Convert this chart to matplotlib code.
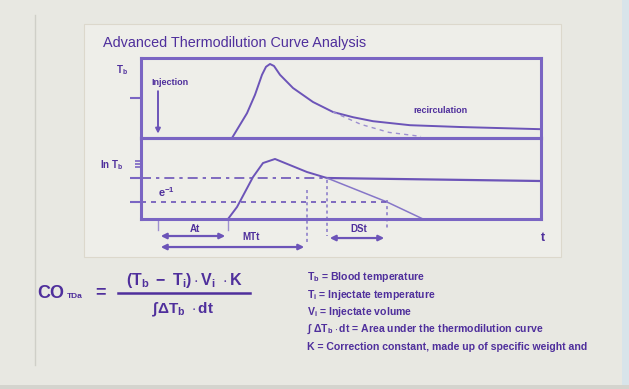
import matplotlib
matplotlib.use('Agg')
import matplotlib.pyplot as plt
from matplotlib.patches import Rectangle

# ---------------- data ----------------
title = "Advanced Thermodilution Curve Analysis"
# top panel: thermodilution curve (time units, relative temperature change)
t_top = [22.75, 26.5, 28.5, 30.25, 31.25, 32.25, 33.25, 34.75, 38, 43, 48, 53, 58, 67.25, 79.75, 100]
tb_top = [0.0, 0.31, 0.54, 0.79, 0.89, 0.925, 0.90, 0.79, 0.625, 0.45, 0.325, 0.26, 0.21, 0.16, 0.1375, 0.11]
t_top_extrap = [48, 55, 62, 70]
tb_top_extrap = [0.325, 0.17, 0.07, 0.02]
# bottom panel: logarithmic curve
t_ln = [21.75, 24, 28, 30.5, 33.5, 41.5, 46.5]
ln_tb = [0.0, 0.148, 0.518, 0.691, 0.741, 0.580, 0.506]
t_ln_recirc = [46.5, 100]
ln_recirc = [0.506, 0.469]
t_ln_fit = [46.5, 61.5, 70.5]
ln_fit = [0.506, 0.21, 0.0]
level_ref = 0.506
level_e1 = 0.21
t_injection = 4.25
t_appear = 21.75
t_mtt = 41.5
t_dst_start = 46.5
t_dst_end = 61.5

legend_lines = [
    r"$\mathbf{T_b}$ = Blood temperature",
    r"$\mathbf{T_i}$ = Injectate temperature",
    r"$\mathbf{V_i}$ = Injectate volume",
    r"$\mathbf{\int\ \Delta T_b \cdot dt}$ = Area under the thermodilution curve",
    r"K = Correction constant, made up of specific weight and",
]

# ---------------- style ----------------
FONT = 'Liberation Sans'
plt.rcParams['font.family'] = [FONT, 'DejaVu Sans']
plt.rcParams['mathtext.fontset'] = 'custom'
plt.rcParams['mathtext.rm'] = FONT
plt.rcParams['mathtext.it'] = FONT + ':italic'
plt.rcParams['mathtext.bf'] = FONT + ':bold'
plt.rcParams['mathtext.sf'] = FONT

LINE = '#6c54b8'
FRAME = '#7a65c3'
TEXT = '#4f2f9c'
BG = '#e8e8e2'
PANEL = '#eeeee9'

W, H = 629, 389
fig = plt.figure(figsize=(W / 100, H / 100), dpi=100, facecolor=BG)

# background layer in pixel coordinates
bg = fig.add_axes([0, 0, 1, 1], zorder=0)
bg.set_xlim(0, W)
bg.set_ylim(H, 0)
bg.axis('off')
bg.add_patch(Rectangle((84, 24), 477, 233, facecolor=PANEL, edgecolor='#dcd8cc', lw=0.8))
bg.plot([35, 35], [15, 365], color='#cfcfc8', lw=1.0)
bg.add_patch(Rectangle((622, 0), 7, H, facecolor='#d8e4ea', edgecolor='none'))
bg.add_patch(Rectangle((0, 385), W, 4, facecolor='#d4d4ce', edgecolor='none'))

# chart axes
def px_axes(x0, y0, x1, y1, z):
    return fig.add_axes([x0 / W, 1 - y1 / H, (x1 - x0) / W, (y1 - y0) / H], zorder=z)

ax1 = px_axes(141, 58, 541, 138, 2)
ax2 = px_axes(141, 138, 541, 219, 2)
for ax in (ax1, ax2):
    ax.set_facecolor('none')
    ax.set_xlim(0, 100)
    ax.set_ylim(0, 1)
    for s in ax.spines.values():
        s.set_color(FRAME)
        s.set_linewidth(2.2)
    ax.set_xticks([])
    ax.tick_params(axis='y', direction='out', length=8, width=1.5, color=FRAME, labelleft=False)

ax1.set_yticks([0.5])
ax2.set_yticks([level_ref, level_e1])
ax2.set_yticks([0.64, 0.68, 0.72], minor=True)
ax2.tick_params(axis='y', which='minor', direction='out', length=4, width=1.2, color=FRAME, labelleft=False)

# top panel curves
ax1.plot(t_top, tb_top, color=LINE, lw=1.4, solid_joinstyle='round')
ax1.plot(t_top_extrap, tb_top_extrap, color='#9d8fd0', lw=1.0, ls=(0, (3, 3)))
ax1.annotate('', xy=(t_injection, 0.02), xytext=(t_injection, 0.62),
             arrowprops=dict(arrowstyle='-|>', color=LINE, lw=1.4, mutation_scale=7))

# bottom panel curves
ax2.plot(t_ln, ln_tb, color=LINE, lw=1.4, solid_joinstyle='round')
ax2.plot(t_ln_recirc, ln_recirc, color=LINE, lw=1.6)
ax2.plot(t_ln_fit, ln_fit, color='#8676c8', lw=1.1)
ax2.plot([0, t_dst_start], [level_ref, level_ref], color=LINE, lw=1.2, ls=(0, (6, 3, 2, 3)))
ax2.plot([0, t_dst_end], [level_e1, level_e1], color=LINE, lw=1.2, ls=(0, (3, 3)))
for tv, y0, y1 in [(t_mtt, 0.36, -0.29), (t_dst_start, 0.48, -0.21), (t_dst_end, 0.235, -0.14)]:
    ax2.plot([tv, tv], [y0, y1], color='#8676c8', lw=1.1, ls=(0, (2, 2)), clip_on=False)
for tv in (t_injection, t_appear):
    ax2.plot([tv, tv], [-0.03, -0.14], color='#9d8fd0', lw=1.0, clip_on=False)

arrow_kw = dict(arrowstyle='<|-|>', color=LINE, lw=1.6, mutation_scale=8)
ax2.annotate('', xy=(t_appear, -0.21), xytext=(t_injection, -0.21), arrowprops=arrow_kw, annotation_clip=False)
ax2.annotate('', xy=(t_mtt, -0.346), xytext=(t_injection, -0.346), arrowprops=arrow_kw, annotation_clip=False)
ax2.annotate('', xy=(t_dst_end, -0.235), xytext=(t_dst_start, -0.235), arrowprops=arrow_kw, annotation_clip=False)

# foreground text layer in pixel coordinates
fg = fig.add_axes([0, 0, 1, 1], zorder=5)
fg.set_xlim(0, W)
fg.set_ylim(H, 0)
fg.axis('off')
fg.patch.set_alpha(0)

tk = dict(color=TEXT)
fg.text(103, 43, title, fontsize=10.4, ha='left', va='center', **tk)
fg.text(122, 70, r'$\mathbf{T_b}$', fontsize=7, ha='center', va='center', **tk)
fg.text(151, 82, 'Injection', fontsize=6.5, fontweight='bold', ha='left', va='center', **tk)
fg.text(413, 110, 'recirculation', fontsize=6.5, fontweight='bold', ha='left', va='center', **tk)
fg.text(112, 165, r'$\mathbf{ln\ T_b}$', fontsize=7, ha='center', va='center', **tk)
fg.text(158, 192, r'$\mathbf{e^{-1}}$', fontsize=8, ha='left', va='center', **tk)
fg.text(195, 229, 'At', fontsize=7, fontweight='bold', ha='center', va='center', **tk)
fg.text(251, 237, 'MTt', fontsize=7, fontweight='bold', ha='center', va='center', **tk)
fg.text(359, 229, 'DSt', fontsize=7, fontweight='bold', ha='center', va='center', **tk)
fg.text(543, 238, 't', fontsize=9, fontweight='bold', ha='center', va='center', **tk)

# formula
fg.text(37, 294, 'CO', fontsize=13, fontweight='bold', ha='left', va='center', **tk)
fg.text(67, 296, 'TDa', fontsize=6, fontweight='bold', ha='left', va='center', **tk)
fg.text(101, 293, '=', fontsize=13, fontweight='bold', ha='center', va='center', **tk)
fg.plot([118, 250], [293, 293], color=TEXT, lw=1.8)
fg.text(184, 281, r'$\mathbf{(T_b\ -\ T_i)\cdot V_i\ \cdot K}$', fontsize=11.5, ha='center', va='center', **tk)
fg.text(183, 310, r'$\mathbf{\int\Delta T_b\ \cdot dt}$', fontsize=11, ha='center', va='center', **tk)

for i, s in enumerate(legend_lines):
    fg.text(307, 277 + i * 17.5, s, fontsize=7.6, fontweight='bold', ha='left', va='center', **tk)

fig.savefig('out.png', dpi=100, facecolor=BG)
